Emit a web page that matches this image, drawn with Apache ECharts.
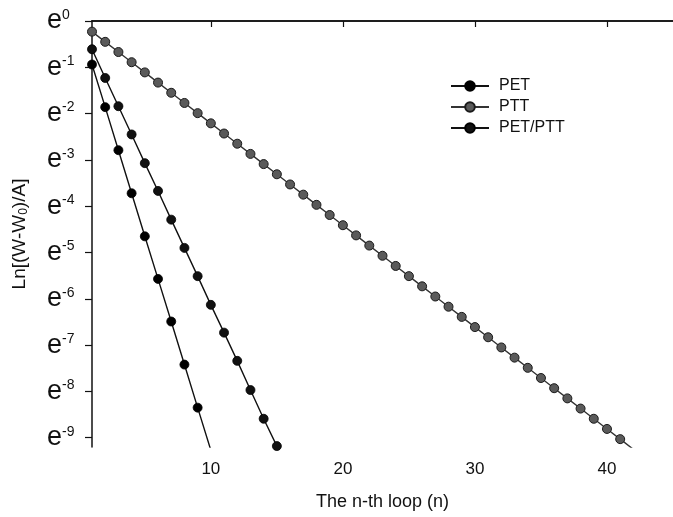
<!DOCTYPE html>
<html>
<head>
<meta charset="utf-8">
<script src="https://cdn.jsdelivr.net/npm/echarts@6/dist/echarts.min.js"></script>
<style>
  html, body { margin: 0; padding: 0; background: #fff; }
  #chart { width: 673px; height: 517px; }
</style>
</head>
<body>
<div id="chart"></div>
<script>
// exponent of e, one value per loop n = 1, 2, 3 ...
var petValues = [-0.94, -1.86, -2.79, -3.72, -4.65, -5.57, -6.49, -7.42, -8.35, -9.27];
var ptt = [-0.23, -0.45, -0.67, -0.89, -1.11, -1.33, -1.55, -1.77, -1.99, -2.21,
           -2.43, -2.65, -2.87, -3.09, -3.31, -3.53, -3.75, -3.97, -4.19, -4.41,
           -4.63, -4.85, -5.07, -5.29, -5.51, -5.73, -5.95, -6.17, -6.39, -6.61,
           -6.83, -7.05, -7.27, -7.49, -7.71, -7.93, -8.15, -8.37, -8.59, -8.81,
           -9.03, -9.25];
var blend = [-0.61, -1.23, -1.84, -2.45, -3.07, -3.67, -4.29, -4.90, -5.51, -6.13,
             -6.73, -7.34, -7.97, -8.59, -9.18];

var xTicks = [10, 20, 30, 40];
var yTicks = [0, -1, -2, -3, -4, -5, -6, -7, -8, -9];

function toPoints(arr) {
  return arr.map(function (v, i) { return [i + 1, v]; });
}

var chart = echarts.init(document.getElementById('chart'));
var font = 'Liberation Sans';

var option = {
  backgroundColor: '#fff',
  animation: false,
  grid: { left: 92, right: -10, top: 21, bottom: 70 },
  legend: {
    left: 445,
    top: 73,
    orient: 'vertical',
    itemWidth: 38,
    itemHeight: 12,
    itemGap: 5,
    textStyle: { fontFamily: font, fontSize: 16, color: '#111', padding: [0, 0, 0, 5] },
    data: ['PET', 'PTT', 'PET/PTT']
  },
  xAxis: [{
    type: 'value',
    min: 1,
    max: 45,
    name: 'The n-th loop (n)',
    nameLocation: 'middle',
    nameGap: 46,
    nameTextStyle: { fontFamily: font, fontSize: 18, color: '#111' },
    axisLine: { lineStyle: { color: '#111', width: 1.5 } },
    axisTick: { customValues: xTicks, length: 6, lineStyle: { color: '#111', width: 1.2 } },
    axisLabel: {
      customValues: xTicks, margin: 14,
      fontFamily: font, fontSize: 17, color: '#111'
    },
    splitLine: { show: false }
  }, {
    type: 'value',
    position: 'top',
    min: 1,
    max: 45,
    axisLine: { show: true, onZero: false, lineStyle: { color: '#111', width: 1.5 } },
    axisTick: { show: false },
    axisLabel: { show: false },
    splitLine: { show: false }
  }],
  yAxis: {
    type: 'value',
    min: -9.2,
    max: 0,
    name: '{a|Ln[(W-W}{sub|0}{a|)/A]}',
    nameLocation: 'middle',
    nameGap: 62,
    nameTextStyle: {
      rich: {
        a: { fontFamily: font, fontSize: 19, color: '#111' },
        sub: { fontFamily: font, fontSize: 12, color: '#111', verticalAlign: 'bottom', padding: [8, 0, 0, 0] }
      }
    },
    axisLine: { show: true, onZero: false, lineStyle: { color: '#111', width: 1.5 } },
    axisTick: { customValues: yTicks, length: 7, lineStyle: { color: '#111', width: 1.2 } },
    axisLabel: {
      customValues: yTicks,
      margin: 45,
      align: 'left',
      formatter: function (v) { return '{e|e}{s|' + v + '}'; },
      rich: {
        e: { fontFamily: font, fontSize: 27, lineHeight: 26, color: '#111' },
        s: { fontFamily: font, fontSize: 14, lineHeight: 14, color: '#111', verticalAlign: 'top' }
      }
    },
    splitLine: { show: false }
  },
  series: [{
    name: 'PET',
    type: 'line',
    data: toPoints(petValues),
    symbol: 'circle',
    symbolSize: 9,
    clip: true,
    lineStyle: { color: '#111', width: 1.4 },
    itemStyle: { color: '#000', borderColor: '#000', borderWidth: 0.8 }
  }, {
    name: 'PTT',
    type: 'line',
    data: toPoints(ptt),
    symbol: 'circle',
    symbolSize: 9,
    clip: true,
    lineStyle: { color: '#333', width: 1.4 },
    itemStyle: { color: '#5a5a5a', borderColor: '#1a1a1a', borderWidth: 1 }
  }, {
    name: 'PET/PTT',
    type: 'line',
    data: toPoints(blend),
    symbol: 'circle',
    symbolSize: 9,
    clip: true,
    lineStyle: { color: '#111', width: 1.4 },
    itemStyle: { color: '#111', borderColor: '#000', borderWidth: 0.8 }
  }]
};

chart.setOption(option);
</script>
</body>
</html>
